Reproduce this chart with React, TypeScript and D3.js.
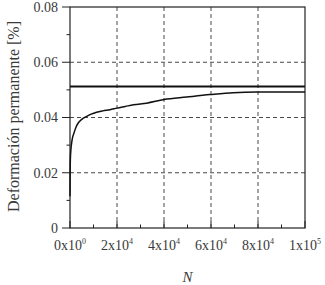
import React from 'react';
import * as d3 from 'd3';

const cycles = [0, 50, 150, 400, 700, 1100, 1700, 2500, 3500, 5000, 7100, 9000, 11300, 14000, 17000, 20000, 23500, 27000, 32600, 40000, 49600, 59600, 69500, 79400, 90000, 100000];
const strain = [0.0115, 0.0200, 0.0247, 0.0285, 0.0308, 0.0328, 0.0344, 0.0364, 0.0380, 0.0393, 0.0404, 0.0412, 0.0419, 0.0424, 0.0428, 0.0434, 0.0440, 0.0446, 0.0452, 0.0465, 0.0474, 0.0483, 0.0490, 0.0492, 0.0492, 0.0492];
const limitValue = 0.0512;

const xTicks = [0, 20000, 40000, 60000, 80000, 100000];
const xTickBase = ['0x10', '2x10', '4x10', '6x10', '8x10', '1x10'];
const xTickExp = ['0', '4', '4', '4', '4', '5'];
const xMinor = [10000, 30000, 50000, 70000, 90000];
const yTicks = [0, 0.02, 0.04, 0.06, 0.08];
const yTickLabels = ['0', '0.02', '0.04', '0.06', '0.08'];
const yMinor = [0.01, 0.03, 0.05, 0.07];

const W = 325;
const H = 285;
const M = { left: 70, right: 20, top: 7, bottom: 57 };
const FONT = "'Liberation Serif', serif";
const TEXT = '#3a3a3a';

export default function App() {
  const ref = React.useRef<SVGSVGElement>(null);

  React.useEffect(() => {
    const svg = d3.select(ref.current);
    svg.selectAll('*').remove();

    const x = d3.scaleLinear().domain([0, 100000]).range([M.left, W - M.right]);
    const y = d3.scaleLinear().domain([0, 0.08]).range([H - M.bottom, M.top]);

    svg.append('rect').attr('width', W).attr('height', H).attr('fill', '#fff');

    // grid
    const grid = svg.append('g')
      .attr('stroke', '#333')
      .attr('stroke-width', 0.9)
      .attr('stroke-dasharray', '4 3');
    for (const v of [20000, 40000, 60000, 80000]) {
      grid.append('line')
        .attr('x1', x(v)).attr('x2', x(v))
        .attr('y1', y(0)).attr('y2', y(0.08));
    }
    for (const v of [0.02, 0.04, 0.06]) {
      grid.append('line')
        .attr('x1', x(0)).attr('x2', x(100000))
        .attr('y1', y(v)).attr('y2', y(v));
    }

    // frame
    svg.append('rect')
      .attr('x', x(0)).attr('y', y(0.08))
      .attr('width', x(100000) - x(0)).attr('height', y(0) - y(0.08))
      .attr('fill', 'none')
      .attr('stroke', '#222')
      .attr('stroke-width', 1.2);

    // y ticks
    const yt = svg.append('g').attr('stroke', '#222').attr('stroke-width', 1);
    for (const v of yTicks) {
      yt.append('line').attr('x1', x(0) - 8).attr('x2', x(0)).attr('y1', y(v)).attr('y2', y(v));
    }
    for (const v of yMinor) {
      yt.append('line').attr('x1', x(0) - 3.5).attr('x2', x(0)).attr('y1', y(v)).attr('y2', y(v));
    }
    yTicks.forEach((v, i) => {
      svg.append('text')
        .attr('x', x(0) - 12)
        .attr('y', y(v))
        .attr('dy', '0.35em')
        .attr('text-anchor', 'end')
        .attr('font-family', FONT)
        .attr('font-size', 14)
        .attr('fill', TEXT)
        .text(yTickLabels[i]);
    });

    // x ticks
    const xt = svg.append('g').attr('stroke', '#222').attr('stroke-width', 1);
    for (const v of xTicks) {
      xt.append('line').attr('x1', x(v)).attr('x2', x(v)).attr('y1', y(0)).attr('y2', y(0) - 7);
    }
    for (const v of xMinor) {
      xt.append('line').attr('x1', x(v)).attr('x2', x(v)).attr('y1', y(0)).attr('y2', y(0) - 3.5);
    }
    xTicks.forEach((v, i) => {
      const t = svg.append('text')
        .attr('x', x(v))
        .attr('y', y(0) + 22)
        .attr('text-anchor', 'middle')
        .attr('font-family', FONT)
        .attr('font-size', 14)
        .attr('fill', TEXT);
      t.append('tspan').text(xTickBase[i]);
      t.append('tspan').attr('dy', -6).attr('font-size', 8).text(xTickExp[i]);
    });

    // axis titles
    svg.append('text')
      .attr('x', x(50000))
      .attr('y', H - 3)
      .attr('text-anchor', 'middle')
      .attr('font-family', FONT)
      .attr('font-style', 'italic')
      .attr('font-size', 15)
      .attr('fill', TEXT)
      .text('N');

    svg.append('text')
      .attr('transform', `translate(19, ${y(0.04) - 1}) rotate(-90)`)
      .attr('text-anchor', 'middle')
      .attr('font-family', FONT)
      .attr('font-size', 16)
      .attr('fill', TEXT)
      .text('Deformación permanente [%]');

    // limit line
    svg.append('line')
      .attr('x1', x(0)).attr('x2', x(100000))
      .attr('y1', y(limitValue)).attr('y2', y(limitValue))
      .attr('stroke', '#111')
      .attr('stroke-width', 2);

    // curve
    const line = d3.line<number>()
      .x((_, i) => x(cycles[i]))
      .y(d => y(d))
      .curve(d3.curveMonotoneX);
    svg.append('path')
      .attr('d', line(strain))
      .attr('fill', 'none')
      .attr('stroke', '#111')
      .attr('stroke-width', 1.5);
  }, []);

  return (
    <svg
      ref={ref}
      width={W}
      height={H}
      style={{ position: 'absolute', left: 0, top: 0, display: 'block' }}
    />
  );
}
